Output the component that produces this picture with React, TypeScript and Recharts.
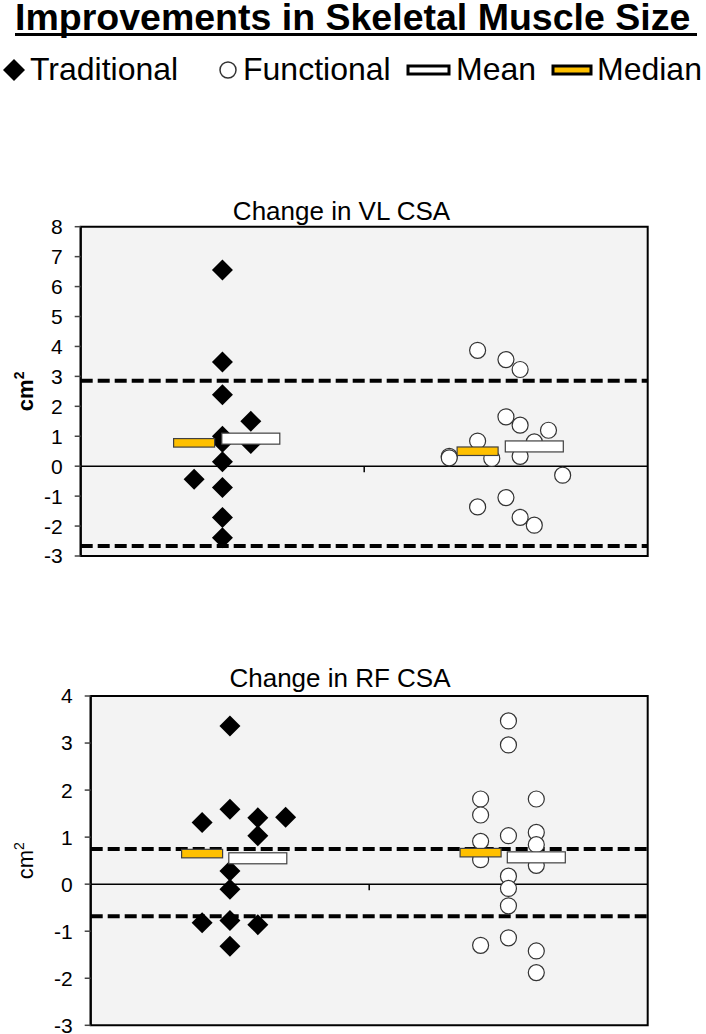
import React from 'react'
import {
  ScatterChart,
  Scatter,
  XAxis,
  YAxis,
  ReferenceArea,
  ReferenceLine,
  ReferenceDot,
  Label,
} from 'recharts'

const FONT = '"Liberation Sans", Arial, sans-serif'

// two groups sit at 0.5 and 1.5 on a 0..2 x scale, points are jittered in slots of 0.05
const groupCenters = [0.5, 1.5]
const SLOT = 0.05

const legendLabels = ['Traditional', 'Functional', 'Mean', 'Median']

// change in VL CSA (cm²)
const vlTraditional = [6.55, 3.48, 2.39, 1.5, 0.76, 1.0, 0.8, 0.15, -0.44, -0.71, -1.71, -2.39]
const vlTraditionalSlot = [0, 0, 0, 2, 2, 0, 0, 0, -2, 0, 0, 0]
const vlFunctional = [3.87, 3.56, 3.23, 1.65, 1.37, 1.2, 0.81, 0.84, 0.33, 0.28, 0.26, 0.33, -0.3, -1.05, -1.36, -1.71, -1.97]
const vlFunctionalSlot = [-2, 0, 1, 0, 1, 3, 2, -2, -4, -4, -1, 1, 4, 0, -2, 1, 2]
const vlMean = [0.92, 0.66]
const vlMedian = [0.78, 0.5]
const vlLimits = [2.85, -2.67]
const vlTicks = [-3, -2, -1, 0, 1, 2, 3, 4, 5, 6, 7, 8]

// change in RF CSA (cm²)
const rfTraditional = [3.36, 1.59, 1.31, 1.41, 1.42, 1.03, 0.28, -0.11, -0.82, -0.77, -0.86, -1.32]
const rfTraditionalSlot = [0, 0, -2, 2, 4, 2, 0, 0, -2, 0, 2, 0]
const rfFunctional = [3.47, 2.96, 1.81, 1.47, 1.81, 1.03, 1.1, 0.91, 0.84, 0.52, 0.4, 0.17, -0.09, -0.46, -1.14, -1.3, -1.42, -1.88]
const rfFunctionalSlot = [0, 0, -2, -2, 2, 0, 2, -2, 2, -2, 2, 0, 0, 0, 0, -2, 2, 2]
const rfMean = [0.55, 0.57]
const rfMedian = [0.65, 0.67]
const rfLimits = [0.75, -0.68]
const rfTicks = [-3, -2, -1, 0, 1, 2, 3, 4]

const toPoints = (values: number[], slots: number[], center: number) =>
  values.map((y, i) => ({ x: center + slots[i] * SLOT, y }))

const statPoints = (values: number[], slot: number) =>
  values.map((y, i) => ({ x: groupCenters[i] + slot * SLOT, y }))

const DiamondShape = (props: any) => {
  const { cx, cy } = props
  const r = 10.5
  return <polygon points={`${cx},${cy - r} ${cx + r},${cy} ${cx},${cy + r} ${cx - r},${cy}`} fill="#000" />
}

const CircleShape = (props: any) => (
  <circle cx={props.cx} cy={props.cy} r={8} fill="#fff" stroke="#333" strokeWidth={1.2} />
)

const makeBar = (w: number, h: number, fill: string) => (props: any) => (
  <rect x={props.cx - w / 2} y={props.cy - h / 2} width={w} height={h} fill={fill} stroke="#404040" strokeWidth={1.2} />
)
const MeanShape = makeBar(58, 11, '#fff')
const MedianShape = makeBar(41, 8.5, '#FFC000')

const CmLabel = ({ viewBox, bold }: { viewBox?: any; bold?: boolean }) => {
  if (!viewBox) return null
  const x = viewBox.x + 33
  const y = viewBox.y + viewBox.height / 2
  return (
    <text
      x={x}
      y={y}
      transform={`rotate(-90, ${x}, ${y})`}
      textAnchor="middle"
      style={{ fontFamily: FONT, fontSize: 22, fontWeight: bold ? 'bold' : 'normal' }}
      fill="#000"
    >
      cm<tspan dy={-9} style={{ fontSize: 14 }}>2</tspan>
    </text>
  )
}

interface PanelProps {
  top: number
  height: number
  marginTop: number
  marginBottom: number
  axisWidth: number
  ticks: number[]
  traditional: number[]
  traditionalSlot: number[]
  functional: number[]
  functionalSlot: number[]
  mean: number[]
  median: number[]
  limits: number[]
  boldLabel?: boolean
}

function Panel(p: PanelProps) {
  const domain = [p.ticks[0], p.ticks[p.ticks.length - 1]]
  return (
    <div style={{ position: 'absolute', left: 0, top: p.top }}>
      <ScatterChart
        width={706}
        height={p.height}
        margin={{ top: p.marginTop, right: 58.3, bottom: p.marginBottom, left: 0 }}
      >
        <XAxis type="number" dataKey="x" domain={[0, 2]} hide />
        <YAxis
          type="number"
          dataKey="y"
          domain={domain}
          ticks={p.ticks}
          interval={0}
          width={p.axisWidth}
          tick={{ fill: '#000', fontSize: 21, fontFamily: FONT }}
          tickSize={6}
          tickMargin={12}
          axisLine={{ stroke: '#000', strokeWidth: 2 }}
          tickLine={{ stroke: '#444', strokeWidth: 1.5 }}
        >
          <Label content={(lp: any) => <CmLabel viewBox={lp.viewBox} bold={p.boldLabel} />} />
        </YAxis>
        <ReferenceArea
          x1={0}
          x2={2}
          y1={domain[0]}
          y2={domain[1]}
          fill="#f3f3f3"
          fillOpacity={1}
          stroke="#000"
          strokeWidth={2}
        />
        <ReferenceLine y={0} stroke="#000" strokeWidth={1.5} />
        <ReferenceDot
          x={1}
          y={0}
          shape={(d: any) => <line x1={d.cx} x2={d.cx} y1={d.cy} y2={d.cy + 6} stroke="#000" strokeWidth={1.5} />}
        />
        <Scatter
          data={toPoints(p.traditional, p.traditionalSlot, groupCenters[0])}
          shape={DiamondShape}
          isAnimationActive={false}
        />
        <Scatter
          data={toPoints(p.functional, p.functionalSlot, groupCenters[1])}
          shape={CircleShape}
          isAnimationActive={false}
        />
        <Scatter data={statPoints(p.median, -2)} shape={MedianShape} isAnimationActive={false} />
        <Scatter data={statPoints(p.mean, 2)} shape={MeanShape} isAnimationActive={false} />
        {p.limits.map((v) => (
          <ReferenceLine key={v} y={v} stroke="#000" strokeWidth={4} strokeDasharray="12 5" />
        ))}
      </ScatterChart>
    </div>
  )
}

export default function App() {
  return (
    <div style={{ position: 'absolute', left: 0, top: 0, width: 706, height: 1034, background: '#fff', fontFamily: FONT }}>
      <svg width={706} height={1034} style={{ position: 'absolute', left: 0, top: 0 }}>
        <text x={15} y={30} fontFamily={FONT} fontSize={37.5} fontWeight="bold" fill="#000">
          Improvements in Skeletal Muscle Size
        </text>
        <line x1={15} x2={697} y1={34.5} y2={34.5} stroke="#000" strokeWidth={3} />
        {/* legend */}
        <polygon points="14,59 25,70 14,81 3,70" fill="#000" />
        <text x={30} y={80} fontFamily={FONT} fontSize={32} fill="#000">{legendLabels[0]}</text>
        <circle cx={228} cy={70} r={8} fill="#fff" stroke="#333" strokeWidth={1.5} />
        <text x={243} y={80} fontFamily={FONT} fontSize={32} fill="#000">{legendLabels[1]}</text>
        <rect x={408} y={66} width={41} height={8} fill="#fff" stroke="#000" strokeWidth={3} />
        <text x={456} y={80} fontFamily={FONT} fontSize={32} fill="#000">{legendLabels[2]}</text>
        <rect x={553} y={66} width={38} height={8} fill="#FFC000" stroke="#000" strokeWidth={3} />
        <text x={597} y={80} fontFamily={FONT} fontSize={32} fill="#000">{legendLabels[3]}</text>
        {/* panel titles */}
        <text x={341.5} y={220} textAnchor="middle" fontFamily={FONT} fontSize={26} fill="#000">
          Change in VL CSA
        </text>
        <text x={340} y={687.3} textAnchor="middle" fontFamily={FONT} fontSize={26} fill="#000">
          Change in RF CSA
        </text>
      </svg>
      <Panel
        top={180}
        height={400}
        marginTop={46.7}
        marginBottom={24}
        axisWidth={80.7}
        ticks={vlTicks}
        traditional={vlTraditional}
        traditionalSlot={vlTraditionalSlot}
        functional={vlFunctional}
        functionalSlot={vlFunctionalSlot}
        mean={vlMean}
        median={vlMedian}
        limits={vlLimits}
        boldLabel
      />
      <Panel
        top={650}
        height={384}
        marginTop={46}
        marginBottom={8.7}
        axisWidth={90.7}
        ticks={rfTicks}
        traditional={rfTraditional}
        traditionalSlot={rfTraditionalSlot}
        functional={rfFunctional}
        functionalSlot={rfFunctionalSlot}
        mean={rfMean}
        median={rfMedian}
        limits={rfLimits}
      />
    </div>
  )
}
